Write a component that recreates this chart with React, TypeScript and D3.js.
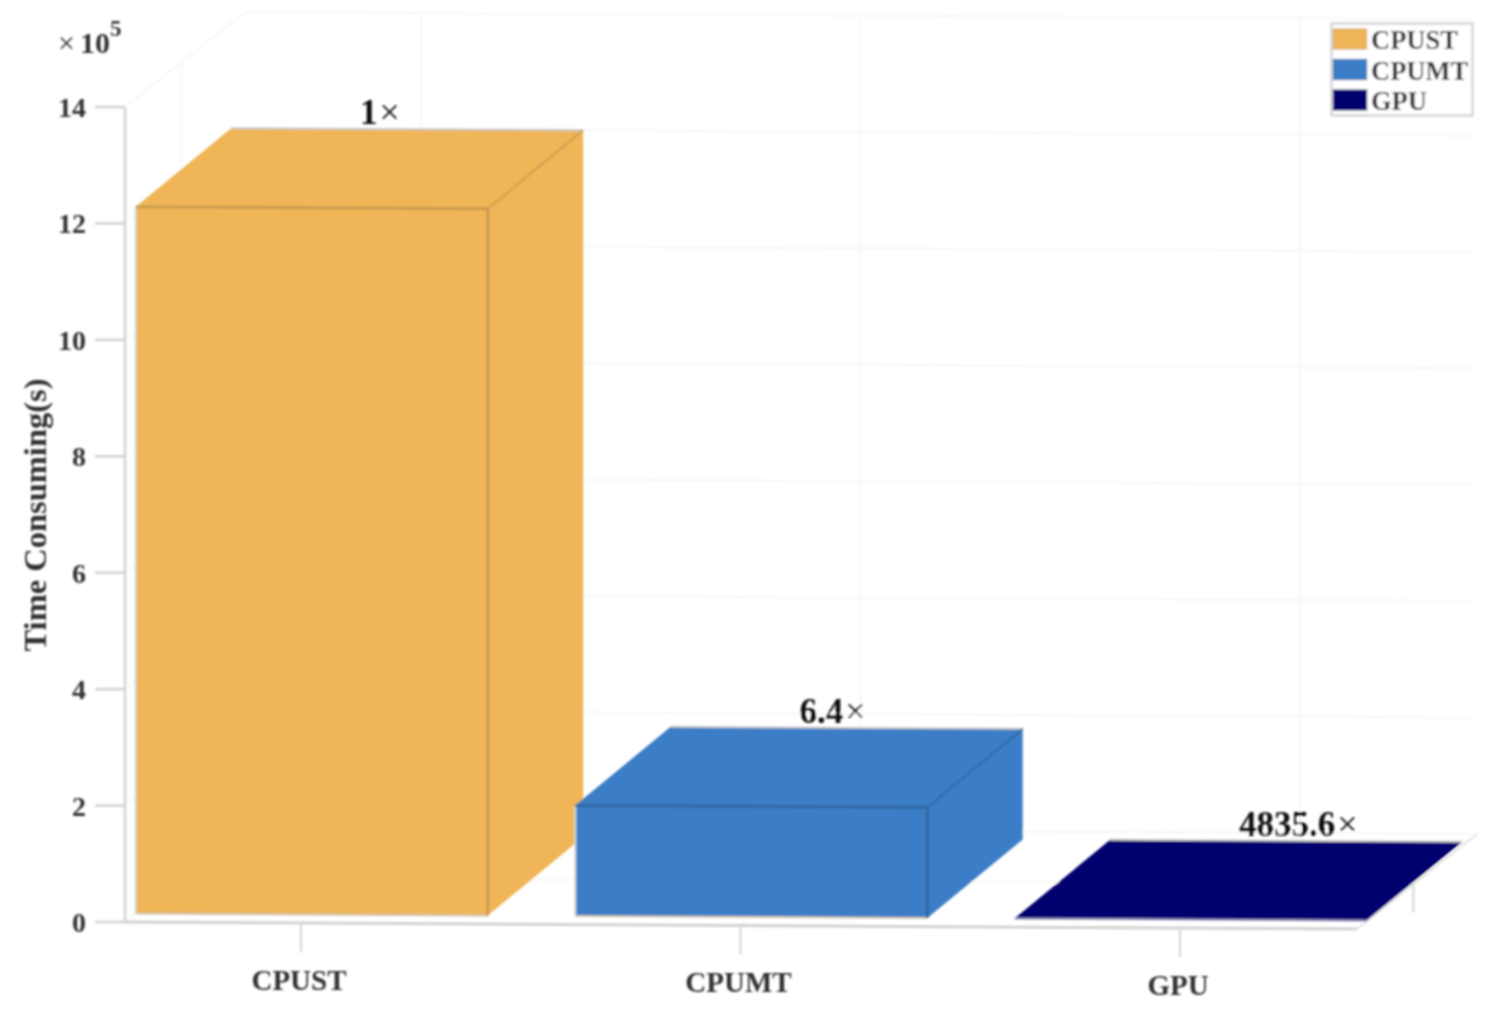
import React from "react";
import * as d3 from "d3";

const categories = ["CPUST", "CPUMT", "GPU"];
const timeValues = [1214000, 190000, 251];
const speedLabels = ["1", "6.4", "4835.6"];
const yTicks = [0, 2, 4, 6, 8, 10, 12, 14];
const faceColors = ["#EFB556", "#3A7DC6", "#00006E"];
const edgeColors = ["#C4974F", "#33659E", "#00005A"];
const FONT = "'Liberation Serif', serif";

const W = 1492, H = 1022;
const axisX = 125, wallDX = 120, wallDY = -95, floorSlope = 7 / 1232, floorLen = 1232;
const barFront = 0.09, barBack = 0.885, barHalf = 176, depthTick = 0.47, barLift = -3;
const yScale = d3.scaleLinear().domain([0, 14e5]).range([922, 107]);
const xScale = d3.scalePoint<string>().domain(categories).range([176, 1055]);

// oblique projection: u along the floor, v value, d depth into the scene
const P = (u: number, v: number, d: number, lift = 0): [number, number] => [
  axisX + u + wallDX * d,
  yScale(v) + floorSlope * u + wallDY * d + lift,
];
const line = d3.line<[number, number]>();
const poly = (pts: [number, number][]) => line(pts) + "Z";
const seg = (a: [number, number], b: [number, number], stroke: string, w: number, key?: string) => (
  <line key={key} x1={a[0]} y1={a[1]} x2={b[0]} y2={b[1]} stroke={stroke} strokeWidth={w} />
);
const GRID = "#f7f7f7";
const AXIS = "#d2d2d2";
const TXT = "#333";

export default function App() {
  return (
    <svg width={W} height={H} viewBox={`0 0 ${W} ${H}`}
      style={{ position: "absolute", left: 0, top: 0, background: "#fff" }} fontFamily={FONT}>
      <defs>
        <filter id="soft" x="-2%" y="-2%" width="104%" height="104%">
          <feGaussianBlur stdDeviation="1" />
        </filter>
      </defs>
      <g filter="url(#soft)">
        {/* wall grid */}
        {yTicks.map((t) => (
          <path key={"g" + t} fill="none" stroke={GRID} strokeWidth={2}
            d={line([P(0, t * 1e5, 0), P(0, t * 1e5, 1), P(floorLen - 5, t * 1e5, 1)])!} />
        ))}
        {categories.map((c) => seg(P(xScale(c)!, 14e5, 1), P(xScale(c)!, 0, 1), GRID, 2, "v" + c))}
        {seg(P(0, 14e5, depthTick), P(0, 0, depthTick), GRID, 2, "dv")}
        {categories.map((c) => seg(P(xScale(c)!, 0, 0), P(xScale(c)!, 0, 1), GRID, 2, "f" + c))}
        {seg(P(0, 0, depthTick), P(floorLen, 0, depthTick), GRID, 2, "fd")}
        {seg(P(0, 0, 1), P(floorLen - 5, 0, 1), GRID, 2, "fb")}

        {/* axes */}
        {seg(P(0, 14e5, 0), P(0, 0, 0), AXIS, 2.5, "ya")}
        {seg(P(0, 0, 0), P(floorLen, 0, 0), AXIS, 3, "xa")}
        {seg(P(floorLen, 0, 0), P(floorLen, 0, 1), "#e4e4e4", 2, "za")}
        {seg(P(floorLen, 0, depthTick), [P(floorLen, 0, depthTick)[0], P(floorLen, 0, depthTick)[1] + 28], AXIS, 2, "zt")}
        {yTicks.map((t) => (
          <g key={"t" + t}>
            {seg([95, yScale(t * 1e5)], [axisX, yScale(t * 1e5)], AXIS, 2.5)}
            <text x={86} y={yScale(t * 1e5) + 10} textAnchor="end" fontSize={28} fontWeight="bold" fill={TXT}>{t}</text>
          </g>
        ))}
        {categories.map((c) => {
          const [x, y] = P(xScale(c)!, 0, 0);
          return (
            <g key={"x" + c}>
              {seg([x, y + 2], [x, y + 29], AXIS, 2)}
              <text x={x - 2} y={y + 67} textAnchor="middle" fontSize={29} fontWeight="bold" fill={TXT}>{c}</text>
            </g>
          );
        })}

        <text x={58} y={53} fontSize={30} fill={TXT}>×<tspan dx={5} fontWeight="bold">10</tspan>
          <tspan dy={-17} fontSize={23} fontWeight="bold">5</tspan></text>
        <text transform="translate(46,515) rotate(-90)" textAnchor="middle" fontSize={32.5} fontWeight="bold" fill={TXT}>Time Consuming(s)</text>

        {/* bars */}
        {categories.map((c, i) => {
          const v = timeValues[i];
          const l = xScale(c)! - barHalf, r = xScale(c)! + barHalf;
          const fl0 = P(l, 0, barFront), fr0 = P(r, 0, barFront), fl1 = P(l, v, barFront), fr1 = P(r, v, barFront);
          const bl1 = P(l, v, barBack, barLift), br1 = P(r, v, barBack, barLift), br0 = P(r, 0, barBack, barLift);
          const textAt = P(xScale(c)!, v, 0.5);
          return (
            <g key={c}>
              <path d={poly([fr0, br0, br1, fr1])} fill={faceColors[i]} />
              <path d={poly([fl1, fr1, br1, bl1])} fill={faceColors[i]} />
              <path d={poly([fl0, fr0, fr1, fl1])} fill={faceColors[i]} />
              {seg(bl1, br1, "#c9c9c9", 2)}
              {seg(fl0, fl1, "#d5d5d5", 2)}
              {seg(fl0, fr0, i === 2 ? "#8f8fb8" : "#d0c4ae", 2)}
              {i < 2 && seg(fl1, fr1, edgeColors[i], 2.5)}
              {i < 2 && seg(fr1, fr0, edgeColors[i], 2.5)}
              {i < 2 && seg(fr1, br1, edgeColors[i], 1.5)}
              <text x={textAt[0] - 1} y={P(xScale(c)!, v, barBack, barLift)[1] - 5} fontSize={35} fontWeight="bold" fill="#111">
                {speedLabels[i]}<tspan dx={2} fontWeight="normal" fontSize={36}>×</tspan>
              </text>
            </g>
          );
        })}

        {/* legend */}
        <rect x={1331.5} y={23.5} width={141} height={92} fill="#fff" stroke="#d5d5d5" strokeWidth={2.5} />
        {categories.map((c, i) => (
          <g key={"l" + c}>
            <rect x={1333.5} y={29 + 30.5 * i} width={33} height={20} fill={faceColors[i]} stroke={edgeColors[i]} strokeOpacity={0.6} strokeWidth={1.5} />
            <text x={1371} y={49 + 30.5 * i} fontSize={26.5} fontWeight="bold" fill="#333">{c}</text>
          </g>
        ))}
      </g>
    </svg>
  );
}
